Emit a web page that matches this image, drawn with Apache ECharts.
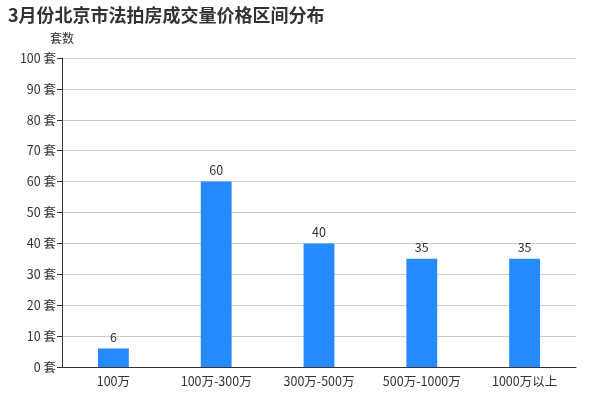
<!DOCTYPE html>
<html><head><meta charset="utf-8">
<script src="https://cdn.jsdelivr.net/npm/echarts@6/dist/echarts.min.js"></script>
<style>html,body{margin:0;padding:0;background:#fff}#c{width:600px;height:400px}</style>
</head><body><div id="c"></div>
<script>
const categories = ['100万', '100万-300万', '300万-500万', '500万-1000万', '1000万以上'];
const values = [6, 60, 40, 35, 35];
const titleText = '3月份北京市法拍房成交量价格区间分布';
const yName = '套数';
const chart = echarts.init(document.getElementById('c'));
chart.setOption({
  animation: false,
  title: { text: titleText, left: 3, top: 1, textStyle: { fontSize: 18, fontWeight: 'bold', color: '#333', fontFamily: 'Noto Sans CJK SC' } },
  grid: { left: 62, right: 24, top: 58, bottom: 33 },
  xAxis: {
    type: 'category', data: categories,
    axisLine: { lineStyle: { color: '#333' } },
    axisTick: { lineStyle: { color: '#333' } },
    axisLabel: { color: '#333', fontSize: 12.5, fontFamily: 'Noto Sans CJK SC', margin: 8 }
  },
  yAxis: {
    type: 'value', min: 0, max: 100, interval: 10,
    name: yName, nameGap: 14,
    nameTextStyle: { color: '#333', fontSize: 12, fontFamily: 'Noto Sans CJK SC', align: 'center' },
    axisLine: { show: true, lineStyle: { color: '#333' } },
    axisTick: { show: true, lineStyle: { color: '#333' } },
    axisLabel: { color: '#333', fontSize: 12.5, fontFamily: 'Noto Sans CJK SC', formatter: '{value} 套', margin: 6 },
    splitLine: { lineStyle: { color: '#ccc' } }
  },
  series: [{
    type: 'bar', data: values, barWidth: '30%',
    itemStyle: { color: '#2589ff' },
    label: { show: true, position: 'top', color: '#333', fontSize: 12.5, fontFamily: 'Noto Sans CJK SC' }
  }]
});
</script></body></html>
